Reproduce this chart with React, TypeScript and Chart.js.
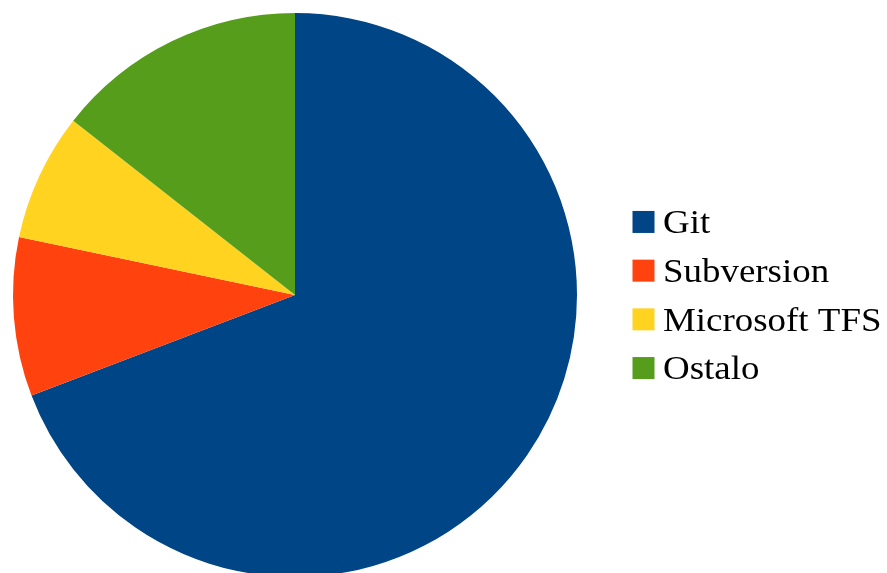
import { useEffect, useRef } from "react";
import { Chart, registerables } from "chart.js";

Chart.register(...registerables);

const categories = ["Git", "Subversion", "Microsoft TFS", "Ostalo"];
const shares = [69.2, 9.1, 7.3, 14.4];
const colors = ["#004586", "#ff420e", "#ffd320", "#579d1c"];

const LEGEND_FONT = '34px "Liberation Serif"';

const sideLegend = {
  id: "sideLegend",
  afterDraw(chart: any) {
    const { ctx, chartArea } = chart;
    const labels: string[] = chart.data.labels;
    const bg: string[] = chart.data.datasets[0].backgroundColor;
    const cy = (chartArea.top + chartArea.bottom) / 2;
    const boxX = chartArea.right + 55.5;
    const box = 22;
    const row = 48.7;
    ctx.save();
    labels.forEach((label, i) => {
      const y = cy + (i - (labels.length - 1) / 2) * row;
      ctx.fillStyle = bg[i];
      ctx.fillRect(boxX, y - box / 2, box, box);
      ctx.save();
      ctx.translate(boxX + box + 8.5, y + 11.3);
      ctx.scale(1.086, 1);
      ctx.font = LEGEND_FONT;
      ctx.textBaseline = "alphabetic";
      ctx.textAlign = "left";
      ctx.fillStyle = "#000000";
      ctx.fillText(label, 0, 0);
      ctx.restore();
    });
    ctx.restore();
  },
};

export default function App() {
  const ref = useRef<HTMLCanvasElement | null>(null);
  useEffect(() => {
    document.body.style.overflow = "hidden";
    const chart = new Chart(ref.current!, {
      type: "pie",
      data: {
        labels: categories,
        datasets: [
          {
            data: shares,
            backgroundColor: colors,
            borderWidth: 0,
          },
        ],
      },
      options: {
        animation: false,
        responsive: true,
        maintainAspectRatio: false,
        layout: { padding: { left: 13, right: 310, top: 13, bottom: 13 } },
        plugins: {
          legend: { display: false },
          tooltip: { enabled: true },
        },
      },
      plugins: [sideLegend],
    });
    return () => chart.destroy();
  }, []);
  return (
    <div style={{ position: "fixed", left: 0, top: 0, width: 887, height: 590, background: "#ffffff" }}>
      <canvas ref={ref} />
    </div>
  );
}
